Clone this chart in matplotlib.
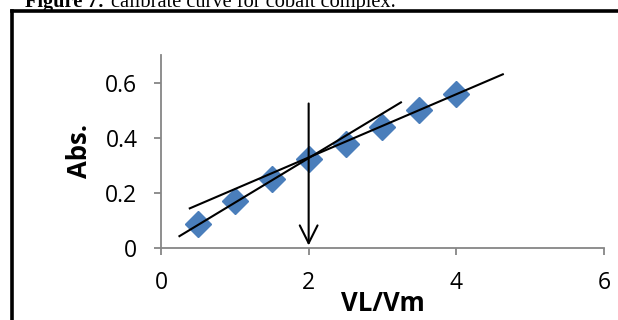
import matplotlib.pyplot as plt
from matplotlib.lines import Line2D

# Absorbance readings vs mole ratio VL/Vm
ratio = [0.5, 1.0, 1.5, 2.0, 2.5, 3.0, 3.5, 4.0]
absorb = [0.085, 0.171, 0.248, 0.324, 0.376, 0.437, 0.499, 0.558]

# Hand-drawn tangent lines (start/end in data units)
line1_x = [0.25, 3.25]
line1_y = [0.042, 0.528]
line2_x = [0.39, 4.63]
line2_y = [0.143, 0.630]

# Arrow marking the intersection
arrow_x = 2.0
arrow_top = 0.524
arrow_bottom = 0.008

xticks = [0, 2, 4, 6]
yticks = [0, 0.2, 0.4, 0.6]

fig = plt.figure(figsize=(6.18, 3.2), dpi=100)
ax = fig.add_axes([0.2605, 0.2259, 0.9773 - 0.2605, 0.828 - 0.2259])

ax.plot(ratio, absorb, linestyle='none', marker='D', markersize=13,
        color='#4a7ebb', zorder=2)
ax.plot(line1_x, line1_y, color='black', lw=1.5, zorder=3)
ax.plot(line2_x, line2_y, color='black', lw=1.5, zorder=3)
ax.annotate('', xy=(arrow_x, arrow_bottom), xytext=(arrow_x, arrow_top),
            arrowprops=dict(arrowstyle='->', color='black', lw=1.5,
                            mutation_scale=32, shrinkA=0, shrinkB=0), zorder=4)

ax.set_xlim(0, 6)
ax.set_ylim(0, 0.7)
ax.set_xticks(xticks)
ax.set_xticklabels(['0', '2', '4', '6'])
ax.set_yticks(yticks)
ax.set_yticklabels(['0', '0.2', '0.4', '0.6'])

for side in ['top', 'right']:
    ax.spines[side].set_visible(False)
for side in ['left', 'bottom']:
    ax.spines[side].set_color('#868686')
    ax.spines[side].set_linewidth(1.3)
ax.tick_params(colors='#868686', labelcolor='black', length=5, width=1.3,
               labelsize=16.5)
ax.tick_params(axis='y', pad=12)
ax.tick_params(axis='x', pad=12)
for lab in ax.get_xticklabels() + ax.get_yticklabels():
    lab.set_family('Open Sans')

ax.set_xlabel('VL/Vm', fontsize=18.5, fontweight='bold', family='Open Sans')
ax.set_ylabel('Abs.', fontsize=18.5, fontweight='bold', family='Open Sans')
ax.xaxis.set_label_coords(0.501, -0.29)
ax.xaxis.label.set_va('center')
ax.yaxis.set_label_coords(-0.183, 0.503)
ax.yaxis.label.set_va('center')

# page frame around the figure and the cut-off caption
fig.add_artist(Line2D([0.019, 1.0], [0.965, 0.965], color='black', lw=2.6,
                      transform=fig.transFigure))
fig.add_artist(Line2D([0.019, 0.019], [0.0, 0.965], color='black', lw=2.6,
                      transform=fig.transFigure))
cap1 = fig.text(0.040, 0.977, 'Figure 7:', fontsize=14.7, fontweight='bold',
                family='Liberation Serif', va='baseline')
fig.canvas.draw()
bb = cap1.get_window_extent()
fig.text(bb.x1 / fig.bbox.width + 0.011, 0.977,
         'calibrate curve for cobalt complex.', fontsize=14.7,
         family='Liberation Serif', va='baseline')

fig.savefig('out.png', dpi=100)
